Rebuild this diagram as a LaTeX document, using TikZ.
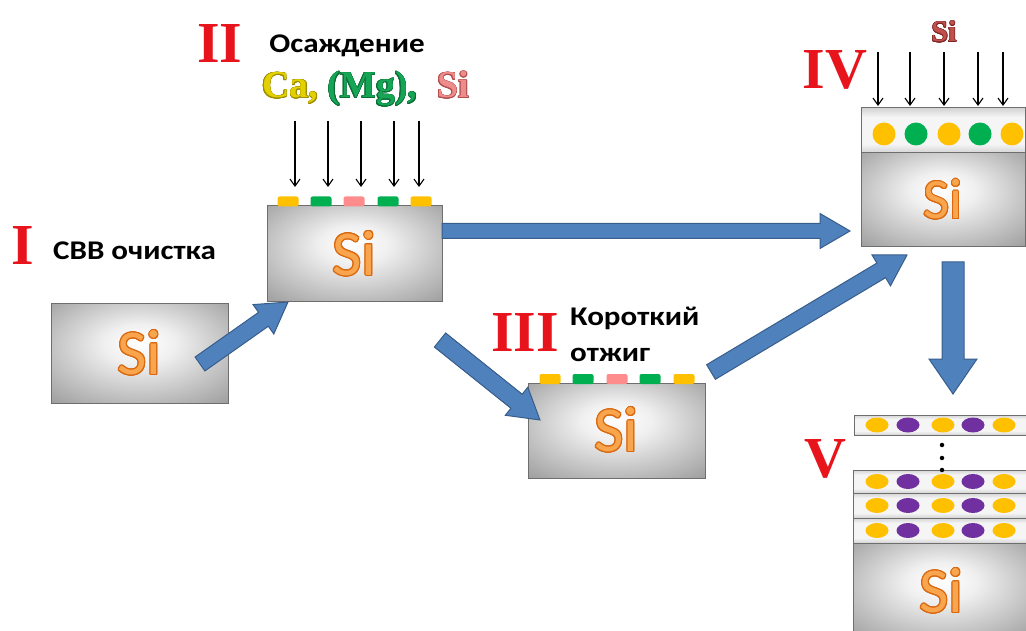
\documentclass[tikz,border=0pt]{standalone}
\usepackage{fontspec}
\setmainfont{Liberation Serif}
\newfontfamily\labfont[FakeStretch=1.15]{Carlito}
\newfontfamily\sifont{Carlito}
\usepackage[copies]{contour}
\contourlength{1.1pt}
\usetikzlibrary{positioning,calc,arrows.meta,shapes.geometric}

\definecolor{stepred}{HTML}{E8141C}
\definecolor{arrblue}{HTML}{4F81BD}
\definecolor{arredge}{HTML}{385D8A}
\definecolor{waferedge}{HTML}{6E6E6E}
\definecolor{sifill}{HTML}{F8A54E}
\definecolor{siedge}{HTML}{D9680F}
\definecolor{caY}{HTML}{FFC000}
\definecolor{mgG}{HTML}{00B050}
\definecolor{siP}{HTML}{FF8C8C}
\definecolor{purp}{HTML}{7030A0}
\definecolor{caText}{HTML}{E2D000}
\definecolor{caEdge}{HTML}{9C8C00}
\definecolor{mgText}{HTML}{16A455}
\definecolor{mgEdge}{HTML}{0A6E36}
\definecolor{siText}{HTML}{EE8C8C}
\definecolor{siEdge}{HTML}{B04C4C}
\definecolor{siTop}{HTML}{C0504D}
\definecolor{siTopEdge}{HTML}{7E2624}

\pgfdeclareradialshading{wafershade}{\pgfpoint{0bp}{6bp}}{color(0bp)=(white); color(10bp)=(white!94!black); color(40bp)=(white!58!black); color(55bp)=(white!52!black)}
\pgfdeclareverticalshading{layershade}{100bp}{color(0bp)=(white!50!black); color(35bp)=(white!96!black); color(65bp)=(white!96!black); color(100bp)=(white!50!black)}

\newcommand{\Si}{\textcolor{sifill}{\contour{siedge}{Si}}}
\newcommand{\wordart}[3]{{\contourlength{0.6pt}\textcolor{#1}{\contour{#2}{#3}}}}
% block arrow between two points: from, to, half shaft, half head, head length
\newcommand{\fatarr}[5]{%
  \path[fatarrow] let \p1=#1, \p2=#2, \n1={atan2(\y2-\y1,\x2-\x1)}, \n2={veclen(\x2-\x1,\y2-\y1)} in
    [shift={(\p1)},rotate=\n1] (0,#3) -- (\n2-#5,#3) -- (\n2-#5,#4) -- (\n2,0) -- (\n2-#5,-#4) -- (\n2-#5,-#3) -- (0,-#3) -- cycle;}

\begin{document}
\begin{tikzpicture}[x=1pt,y=-1pt,
  wafer/.style={draw=waferedge,line width=1pt,shading=wafershade,inner sep=0pt,outer sep=0pt,font=\sifont\fontsize{64}{64}\selectfont},
  layer/.style={draw=waferedge,line width=1pt,shading=layershade,inner sep=0pt,outer sep=0pt},
  chip/.style={rounded corners=2pt,minimum width=21pt,minimum height=10pt,inner sep=0pt},
  ball/.style={circle,minimum size=23pt,inner sep=0pt},
  grain/.style={ellipse,minimum width=23pt,minimum height=15pt,inner sep=0pt},
  numeral/.style={font=\fontsize{58}{58}\selectfont\bfseries,text=stepred,inner sep=0pt},
  caption/.style={font=\labfont\bfseries\fontsize{27}{36}\selectfont,inner sep=0pt,align=left},
  beam/.style={-{Straight Barb[length=7pt,width=10pt]},line width=1.1pt},
  fatarrow/.style={fill=arrblue,draw=arredge,line width=1pt}]
\useasboundingbox (0,0) rectangle (1026,631);
\clip (0,0) rectangle (1026,631);

% wafers
\node[wafer,minimum width=177pt,minimum height=99pt] (b1) at (139.5,353.5) {\Si};
\node[wafer,minimum width=175pt,minimum height=96pt] (b2) at (354.5,254) {\Si};
\node[wafer,minimum width=177pt,minimum height=95pt] (b3) at (616.5,430.5) {\Si};
\node[layer,minimum width=164pt,minimum height=45pt] (b4t) at (943,130.5) {};
\node[wafer,minimum width=164pt,minimum height=94pt,below=0pt of b4t,font=\sifont\fontsize{57}{57}\selectfont] (b4) {\Si};
\node[layer,minimum width=177pt,minimum height=20pt] (b5t) at (942.5,425) {};
\node[layer,minimum width=177pt,minimum height=23pt] (l1) at (941.5,481.5) {};
\node[layer,minimum width=177pt,minimum height=25pt,below=0pt of l1] (l2) {};
\node[layer,minimum width=177pt,minimum height=25pt,below=0pt of l2] (l3) {};
\node[wafer,minimum width=177pt,minimum height=97pt,below=0pt of l3] (b5) {\Si};

% deposited atoms
\foreach \x/\c [count=\i] in {288/caY,321/mgG,354/siP,388/mgG,421/caY}
  \node[chip,fill=\c] (c2-\i) at (\x,201.5) {};
\foreach \x/\c [count=\i] in {550/caY,583/mgG,617/siP,650/mgG,684/caY}
  \node[chip,fill=\c] (c3-\i) at (\x,379) {};
\foreach \x/\c [count=\i] in {884/caY,916/mgG,949/caY,980/mgG,1012/caY}
  \node[ball,fill=\c] (a4-\i) at (\x,134) {};
\foreach \y [count=\j] in {425,481.5,505.5,530.5}
  \foreach \x/\c [count=\i] in {877/caY,908/purp,943/caY,973/purp,1004/caY}
    \node[grain,fill=\c] (g\j-\i) at (\x,\y) {};
\foreach \y [count=\i] in {445,458,470}
  \node[circle,fill=black,minimum size=4.5pt,inner sep=0pt] (dt-\i) at (942,\y) {};

% fluxes
\foreach \x [count=\i] in {295,328,361,394,419} {
  \coordinate (s2-\i) at (\x,121);
  \draw[beam] (s2-\i) -- ($(s2-\i |- b2.north)+(0,-19)$);
}
\foreach \x [count=\i] in {878,910,944,978,1003} {
  \coordinate (s4-\i) at (\x,52);
  \draw[beam] (s4-\i) -- ($(s4-\i |- b4t.north)+(0,-2)$);
}

% process arrows
\fatarr{($(b1.east)+(-28,10.5)$)}{($(b2.south west)+(21,0)$)}{8.5}{18}{30}
\fatarr{($(b2.east)+(0,-23)$)}{($(b4.west)+(-11,31)$)}{7.5}{17.5}{30}
\fatarr{($(b2.south east)+(-2,38)$)}{($(b3.north west)+(12,37)$)}{9}{18}{30}
\fatarr{($(b3.north east)+(6,-11)$)}{($(b4.south west)+(46,8)$)}{8.5}{18}{30}
\fatarr{($(b4.south)+(10,15)$)}{($(b5t.north)+(10.5,-21)$)}{11}{24}{35}

% labels
\node[numeral] (n1) at (23,246) {I};
\node[numeral] (n2) at (220,44) {II};
\node[numeral] (n3) at (525,333) {III};
\node[numeral] (n4) at (835,70) {IV};
\node[numeral] (n5) at (825,459) {V};
\node[caption,anchor=base west] (t1) at (53,260) {СВВ очистка};
\node[caption,anchor=base] (t2) at (347,53) {Осаждение};
\node[caption,anchor=base west] (t3) at (570,361) {Короткий\\отжиг};
\node[anchor=base west,inner sep=0pt,font=\bfseries\fontsize{38}{38}\selectfont] (src2) at (262,98)
  {\wordart{caText}{caEdge}{Ca,} \wordart{mgText}{mgEdge}{(Mg),}\hspace{20pt}\wordart{siText}{siEdge}{Si}};
\node[anchor=base,inner sep=0pt,font=\bfseries\fontsize{30}{30}\selectfont] (src4) at (944,42) {\wordart{siTop}{siTopEdge}{Si}};
\end{tikzpicture}
\end{document}
